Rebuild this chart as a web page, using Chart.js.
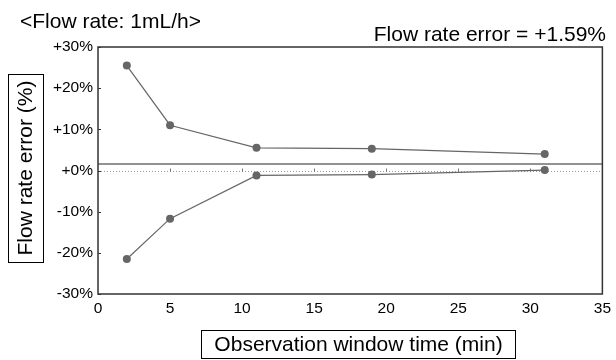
<!DOCTYPE html>
<html>
<head>
<meta charset="utf-8">
<script src="https://cdn.jsdelivr.net/npm/chart.js@4.4.1/dist/chart.umd.min.js"></script>
<style>
  body { margin: 0; background: #fff; }
  #wrap { width: 616px; height: 360px; }
</style>
</head>
<body>
<div id="wrap"><canvas id="myChart" width="616" height="360"></canvas></div>
<script>
// observation window (min)
const windowTimes = [2, 5, 11, 19, 31];
// flow rate error (%), upper / lower envelope
const upperError = [25.5, 11.0, 5.5, 5.3, 4.0];
const lowerError = [-21.5, -11.7, -1.2, -1.0, 0.1];
const meanError = 1.59;

const xTicks = [0, 5, 10, 15, 20, 25, 30, 35];
const yTicks = [-30, -20, -10, 0, 10, 20, 30];

const titleText = "<Flow rate: 1mL/h>";
const errorText = "Flow rate error = +1.59%";
const xTitle = "Observation window time (min)";
const yTitle = "Flow rate error (%)";

const FONT = "Arial, 'Liberation Sans', sans-serif";
const gray = "#666666";

function toPoints(ys){
    return windowTimes.map((x, i) => ({x: x, y: ys[i]}));
}

function fmtPct(v){
    return (v >= 0 ? "+" : "") + v + "%";
}

// extra drawing: border, inner ticks, zero and mean lines, titles
const decor = {
    id: "decor",
    beforeDatasetsDraw(chart){
        const ctx = chart.ctx;
        const a = chart.chartArea;
        const xs = chart.scales.x, ys = chart.scales.y;
        ctx.save();

        // dotted zero line
        let y0 = Math.round(ys.getPixelForValue(0)) + 0.5;
        ctx.strokeStyle = "#9a9a9a";
        ctx.lineWidth = 1;
        ctx.setLineDash([1, 2]);
        ctx.beginPath();
        ctx.moveTo(a.left, y0);
        ctx.lineTo(a.right, y0);
        ctx.stroke();
        ctx.setLineDash([]);

        // small ticks on zero line
        ctx.strokeStyle = "#777";
        xTicks.forEach(t => {
            if(t == 0 || t == 35) return;
            let px = Math.round(xs.getPixelForValue(t)) + 0.5;
            ctx.beginPath();
            ctx.moveTo(px, y0);
            ctx.lineTo(px, y0 - 3);
            ctx.stroke();
        });

        // mean error line
        let ym = ys.getPixelForValue(meanError);
        ctx.strokeStyle = "#6e6e6e";
        ctx.lineWidth = 1.5;
        ctx.beginPath();
        ctx.moveTo(a.left, ym);
        ctx.lineTo(a.right, ym);
        ctx.stroke();

        ctx.restore();
    },
    afterDraw(chart){
        const ctx = chart.ctx;
        const a = chart.chartArea;
        const ys = chart.scales.y;
        ctx.save();

        // plot frame
        ctx.strokeStyle = "#333";
        ctx.lineWidth = 1.5;
        ctx.strokeRect(a.left, a.top, a.right - a.left, a.bottom - a.top);

        // inner y ticks
        ctx.lineWidth = 1;
        yTicks.forEach(t => {
            let py = Math.round(ys.getPixelForValue(t)) + 0.5;
            ctx.beginPath();
            ctx.moveTo(a.left, py);
            ctx.lineTo(a.left + 3, py);
            ctx.stroke();
        });

        // titles
        ctx.fillStyle = "#000";
        ctx.font = "21px " + FONT;
        ctx.textBaseline = "alphabetic";
        ctx.textAlign = "left";
        ctx.fillText(titleText, 20, 28);
        ctx.textAlign = "right";
        ctx.fillText(errorText, 606, 41);

        // x title with box
        ctx.textAlign = "center";
        ctx.textBaseline = "middle";
        ctx.fillText(xTitle, 358.5, 345);
        ctx.strokeStyle = "#000";
        ctx.lineWidth = 1;
        ctx.strokeRect(201.5, 330.5, 314, 28);

        // y title with box
        ctx.save();
        ctx.translate(25.5, 168);
        ctx.rotate(-Math.PI / 2);
        ctx.fillText(yTitle, 0, 1);
        ctx.restore();
        ctx.strokeRect(8.5, 74.5, 35, 188);

        ctx.restore();
    }
};

let ctx = document.getElementById("myChart").getContext("2d");
let myChart = new Chart(ctx, {
    type: "line",
    data: {
        datasets: [
            {
                label: "upper",
                data: toPoints(upperError),
                borderColor: gray,
                backgroundColor: gray,
                borderWidth: 1.2,
                pointRadius: 4,
                pointBorderWidth: 0,
                tension: 0
            },
            {
                label: "lower",
                data: toPoints(lowerError),
                borderColor: gray,
                backgroundColor: gray,
                borderWidth: 1.2,
                pointRadius: 4,
                pointBorderWidth: 0,
                tension: 0
            }
        ]
    },
    options: {
        responsive: false,
        animation: false,
        layout: { padding: { top: 47, right: 9, left: 0, bottom: 0 } },
        plugins: {
            legend: { display: false },
            tooltip: { enabled: false }
        },
        scales: {
            x: {
                type: "linear",
                min: 0,
                max: 35,
                afterBuildTicks(scale){ scale.ticks = xTicks.map(v => ({value: v})); },
                afterFit(scale){ scale.height = 66; },
                grid: { display: false, drawTicks: false },
                border: { display: false },
                ticks: {
                    color: "#000",
                    padding: 5,
                    maxRotation: 0,
                    font: { family: FONT, size: 15.5 }
                }
            },
            y: {
                min: -30,
                max: 30,
                afterBuildTicks(scale){ scale.ticks = yTicks.map(v => ({value: v})); },
                afterFit(scale){ scale.width = 98; },
                grid: { display: false, drawTicks: false },
                border: { display: false },
                ticks: {
                    color: "#000",
                    padding: 5,
                    font: { family: FONT, size: 15.5 },
                    callback: (v) => fmtPct(v)
                }
            }
        }
    },
    plugins: [decor]
});
</script>
</body>
</html>
